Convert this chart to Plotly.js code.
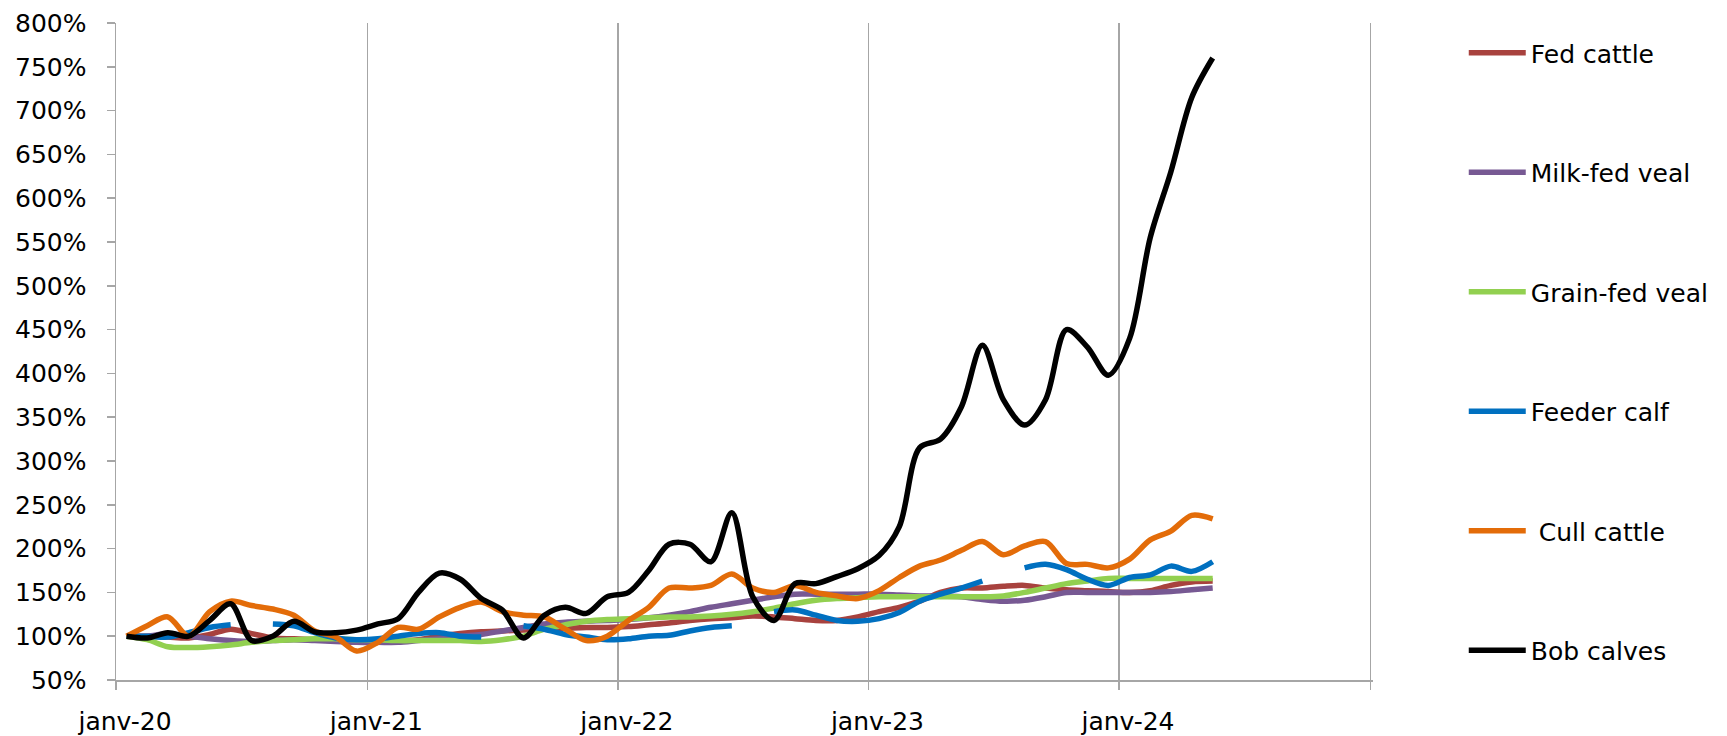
<!DOCTYPE html>
<html>
<head>
<meta charset="utf-8">
<script src="https://cdn.plot.ly/plotly-3.0.1.min.js"></script>
<style>
  html, body { margin: 0; padding: 0; background: #ffffff; }
  #chart { width: 1727px; height: 736px; }
</style>
</head>
<body>
<div id="chart"></div>
<script>
// Months (categories), Jan 2020 .. May 2024
const months = [
  '2020-01','2020-02','2020-03','2020-04','2020-05','2020-06','2020-07','2020-08','2020-09','2020-10','2020-11','2020-12',
  '2021-01','2021-02','2021-03','2021-04','2021-05','2021-06','2021-07','2021-08','2021-09','2021-10','2021-11','2021-12',
  '2022-01','2022-02','2022-03','2022-04','2022-05','2022-06','2022-07','2022-08','2022-09','2022-10','2022-11','2022-12',
  '2023-01','2023-02','2023-03','2023-04','2023-05','2023-06','2023-07','2023-08','2023-09','2023-10','2023-11','2023-12',
  '2024-01','2024-02','2024-03','2024-04','2024-05'
];

// Index values in % (Jan 2020 = 100 %)
const fedCattle = [
  100,100,99,98,102,108,103,98,97,96,95,94,
  94,95,96,100,103,105,106,107,108,109,110,110,
  111,113,115,118,120,121,123,122,120,118,118,122,
  128,133,140,150,155,155,157,158,155,153,152,151,
  150,152,158,162,163
];
const milkFedVeal = [
  100,100,103,100,97,95,94,95,96,95,94,93,
  93,93,95,97,100,102,106,110,114,116,117,118,
  119,121,124,128,133,137,141,145,148,148,148,148,
  148,147,146,146,145,142,140,141,145,150,150,150,
  150,150,151,153,155
];
const grainFedVeal = [
  100,96,88,87,88,90,93,95,96,97,97,96,
  96,95,95,95,95,94,96,100,108,113,117,119,
  120,121,122,122,123,125,128,132,137,141,143,144,
  145,145,145,145,145,145,146,150,155,160,163,166,
  166,166,166,166,166
];
const feederCalf = [
  100,100,99,104,110,113,null,114,112,104,98,96,
  97,100,103,104,100,99,null,112,108,102,99,96,
  97,100,101,106,110,112,null,128,130,124,118,117,
  120,127,140,148,155,163,null,178,182,176,165,158,
  167,170,180,174,185
];
const cullCattle = [
  100,112,122,100,128,140,135,131,124,106,99,83,
  93,110,108,122,133,139,128,124,122,108,95,100,
  118,133,155,155,158,171,155,150,158,150,146,143,
  152,167,180,187,198,208,193,203,208,183,182,178,
  188,210,220,238,234
];
const bobCalves = [
  100,98,104,100,118,137,95,100,117,105,104,107,
  114,120,150,172,165,143,130,98,124,133,126,145,
  150,175,205,205,185,241,145,118,160,160,168,177,
  192,225,315,325,362,432,370,341,370,450,430,398,
  440,555,630,715,760
];

const seriesNames = ['Fed cattle', 'Milk-fed veal', 'Grain-fed veal', 'Feeder calf', '\u00A0Cull cattle', 'Bob calves'];
const seriesData = [fedCattle, milkFedVeal, grainFedVeal, feederCalf, cullCattle, bobCalves];
const seriesColors = ['#A8423E', '#775993', '#92D050', '#0070C0', '#E36C09', '#000000'];

// Axis ticks
const yearTickVals = ['2020-01-01','2021-01-01','2022-01-01','2023-01-01','2024-01-01','2025-01-01'];
const yearTickText = ['janv-20','janv-21','janv-22','janv-23','janv-24',''];

const FONT = 'DejaVu Sans, sans-serif';
const FS = 25;

const traces = seriesData.map((vals, k) => ({
  type: 'scatter',
  mode: 'lines',
  name: seriesNames[k],
  legendgroup: 'g' + k,
  x: months,
  y: vals,
  xperiod: 'M1',
  xperiodalignment: 'middle',
  connectgaps: false,
  line: { color: seriesColors[k], width: 5.5, shape: 'spline', smoothing: 0.9 },
  hoverinfo: 'x+y+name'
}));

const layout = {
  width: 1727,
  height: 736,
  paper_bgcolor: '#ffffff',
  plot_bgcolor: '#ffffff',
  margin: { l: 116, r: 354, t: 23, b: 56 },
  font: { family: FONT, size: FS, color: '#000000' },
  xaxis: {
    type: 'date',
    range: ['2020-01-01', '2025-01-05'],
    tickmode: 'array',
    tickvals: yearTickVals,
    ticktext: yearTickText,
    showgrid: true,
    gridcolor: '#A6A6A6',
    gridwidth: 1.5,
    showline: true,
    linecolor: '#A6A6A6',
    linewidth: 1.5,
    ticks: 'outside',
    ticklen: 8,
    tickwidth: 1.5,
    tickcolor: '#A6A6A6',
    ticklabelshift: 9,
    ticklabelstandoff: 10,
    tickfont: { family: FONT, size: FS, color: '#000000' },
    zeroline: false,
    fixedrange: true
  },
  yaxis: {
    range: [50, 800],
    tick0: 50,
    dtick: 50,
    ticksuffix: '%',
    showgrid: false,
    showline: true,
    linecolor: '#A6A6A6',
    linewidth: 1.5,
    ticks: 'outside',
    ticklen: 8,
    tickwidth: 1.5,
    tickcolor: '#A6A6A6',
    ticklabelstandoff: 15,
    tickfont: { family: FONT, size: FS, color: '#000000' },
    zeroline: false,
    fixedrange: true
  },
  showlegend: true,
  legend: {
    x: 1.0722,
    xanchor: 'left',
    y: 0.50,
    yanchor: 'middle',
    tracegroupgap: 84,
    itemwidth: 57,
    font: { family: FONT, size: FS, color: '#000000' },
    bgcolor: 'rgba(0,0,0,0)',
    borderwidth: 0
  }
};

Plotly.newPlot('chart', traces, layout, { displayModeBar: false, staticPlot: true });
</script>
</body>
</html>
